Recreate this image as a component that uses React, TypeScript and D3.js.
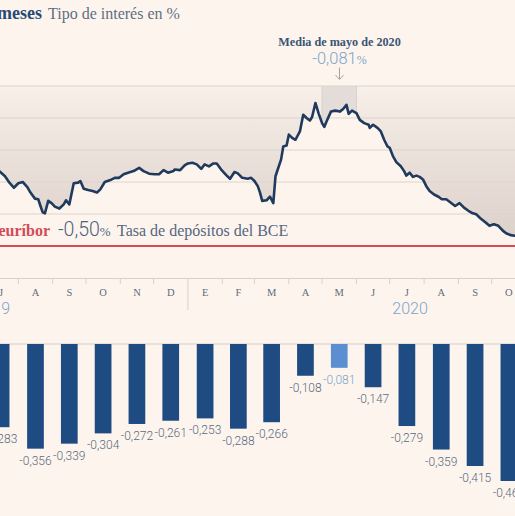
import React from 'react';
import * as d3 from 'd3';

// Euríbor a 12 meses, lecturas diarias aproximadas (%)
const euriborDaily: [string, number][] = [
  ['2019-07-12', -0.255], ['2019-07-15', -0.266], ['2019-07-20', -0.282], ['2019-07-24', -0.302],
  ['2019-07-28', -0.318], ['2019-08-01', -0.304], ['2019-08-05', -0.3], ['2019-08-09', -0.315],
  ['2019-08-12', -0.333], ['2019-08-16', -0.352], ['2019-08-19', -0.354], ['2019-08-21', -0.375],
  ['2019-08-23', -0.395], ['2019-08-25', -0.398], ['2019-08-28', -0.359], ['2019-08-31', -0.366],
  ['2019-09-03', -0.377], ['2019-09-07', -0.383], ['2019-09-11', -0.37], ['2019-09-13', -0.357],
  ['2019-09-16', -0.37], ['2019-09-20', -0.304], ['2019-09-24', -0.302], ['2019-09-26', -0.297],
  ['2019-09-29', -0.321], ['2019-10-03', -0.325], ['2019-10-07', -0.328], ['2019-10-11', -0.333],
  ['2019-10-14', -0.323], ['2019-10-18', -0.3], ['2019-10-23', -0.294], ['2019-10-27', -0.287],
  ['2019-10-31', -0.287], ['2019-11-04', -0.276], ['2019-11-08', -0.271], ['2019-11-13', -0.266],
  ['2019-11-18', -0.256], ['2019-11-22', -0.266], ['2019-11-27', -0.274], ['2019-12-02', -0.276],
  ['2019-12-06', -0.276], ['2019-12-10', -0.263], ['2019-12-14', -0.271], ['2019-12-19', -0.266],
  ['2019-12-20', -0.261], ['2019-12-25', -0.263], ['2019-12-29', -0.248], ['2020-01-01', -0.242],
  ['2020-01-05', -0.24], ['2020-01-09', -0.245], ['2020-01-13', -0.259], ['2020-01-16', -0.245],
  ['2020-01-20', -0.251], ['2020-01-24', -0.242], ['2020-01-27', -0.242], ['2020-01-31', -0.261],
  ['2020-02-05', -0.28], ['2020-02-08', -0.29], ['2020-02-12', -0.269], ['2020-02-15', -0.273],
  ['2020-02-19', -0.287], ['2020-02-24', -0.29], ['2020-02-27', -0.287], ['2020-03-01', -0.297],
  ['2020-03-04', -0.313], ['2020-03-06', -0.333], ['2020-03-08', -0.359], ['2020-03-12', -0.357],
  ['2020-03-15', -0.346], ['2020-03-17', -0.359], ['2020-03-18', -0.366], ['2020-03-20', -0.282],
  ['2020-03-22', -0.261], ['2020-03-25', -0.23], ['2020-03-27', -0.189], ['2020-03-30', -0.186],
  ['2020-04-01', -0.152], ['2020-04-04', -0.162], ['2020-04-07', -0.168], ['2020-04-11', -0.142],
  ['2020-04-14', -0.09], ['2020-04-17', -0.1], ['2020-04-20', -0.108], ['2020-04-22', -0.097],
  ['2020-04-25', -0.053], ['2020-04-28', -0.087], ['2020-05-01', -0.116], ['2020-05-03', -0.128],
  ['2020-05-05', -0.111], ['2020-05-09', -0.08], ['2020-05-13', -0.077], ['2020-05-17', -0.08],
  ['2020-05-20', -0.072], ['2020-05-23', -0.059], ['2020-05-25', -0.087], ['2020-05-28', -0.077],
  ['2020-06-01', -0.085], ['2020-06-04', -0.106], ['2020-06-08', -0.116], ['2020-06-12', -0.121],
  ['2020-06-13', -0.131], ['2020-06-16', -0.121], ['2020-06-20', -0.131], ['2020-06-23', -0.142],
  ['2020-06-26', -0.168], ['2020-06-29', -0.189], ['2020-07-01', -0.193], ['2020-07-04', -0.22],
  ['2020-07-07', -0.238], ['2020-07-11', -0.251], ['2020-07-14', -0.266], ['2020-07-16', -0.28],
  ['2020-07-19', -0.271], ['2020-07-22', -0.284], ['2020-07-25', -0.28], ['2020-07-28', -0.284],
  ['2020-07-31', -0.292], ['2020-08-03', -0.313], ['2020-08-06', -0.328], ['2020-08-10', -0.339],
  ['2020-08-14', -0.346], ['2020-08-17', -0.354], ['2020-08-21', -0.354], ['2020-08-24', -0.362],
  ['2020-08-29', -0.375], ['2020-09-02', -0.366], ['2020-09-06', -0.38], ['2020-09-10', -0.39],
  ['2020-09-14', -0.398], ['2020-09-17', -0.401], ['2020-09-21', -0.414], ['2020-09-25', -0.425],
  ['2020-09-29', -0.437], ['2020-10-03', -0.432], ['2020-10-07', -0.437], ['2020-10-11', -0.452],
  ['2020-10-14', -0.46], ['2020-10-18', -0.466], ['2020-10-22', -0.468], ['2020-10-26', -0.472],
];

// Medias mensuales, de julio de 2019 a octubre de 2020
const barMonths = [
  '2019-07', '2019-08', '2019-09', '2019-10', '2019-11', '2019-12', '2020-01', '2020-02',
  '2020-03', '2020-04', '2020-05', '2020-06', '2020-07', '2020-08', '2020-09', '2020-10',
];
const monthlyAvg = [
  -0.283, -0.356, -0.339, -0.304, -0.272, -0.261, -0.253, -0.288,
  -0.266, -0.108, -0.081, -0.147, -0.279, -0.359, -0.415, -0.466,
];
const monthLetters = ['J', 'A', 'S', 'O', 'N', 'D', 'E', 'F', 'M', 'A', 'M', 'J', 'J', 'A', 'S', 'O'];
const gridValues = [0, -0.1, -0.2, -0.3, -0.4];
const highlightMonth = '2020-05';
const depositRate = -0.5;

const W = 515;
const H = 516;
const serif = '"Liberation Serif", "DejaVu Serif", serif';
const sans = 'Roboto, Lato, sans-serif';

const parseDay = d3.timeParse('%Y-%m-%d');
const parseMonth = d3.timeParse('%Y-%m');
const fmt = (v: number) => v.toFixed(3).replace('.', ',');

export default function App() {
  const series = euriborDaily.map(([d, v]) => ({ date: parseDay(d) as Date, value: v }));

  const x = d3.scaleTime()
    .domain([new Date(2019, 7, 1), new Date(2020, 9, 1)])
    .range([18.3, 491.7]);
  const y = d3.scaleLinear().domain([-0.5, 0]).range([246, 86]);
  const yBar = d3.scaleLinear().domain([-0.5, 0]).range([491, 344]);

  const line = d3.line<{ date: Date; value: number }>()
    .x((d) => x(d.date))
    .y((d) => y(d.value));
  const area = d3.area<{ date: Date; value: number }>()
    .x((d) => x(d.date))
    .y0(y(0))
    .y1((d) => y(d.value));

  const hStart = parseMonth(highlightMonth) as Date;
  const hEnd = d3.timeMonth.offset(hStart, 1);
  const mayPart = series.filter((d) => d.date >= hStart && d.date <= hEnd);

  const months = barMonths.map((m) => parseMonth(m) as Date);
  const mid = (m: Date) => (x(m) + x(d3.timeMonth.offset(m, 1))) / 2;
  const ticks = d3.timeMonth.range(new Date(2019, 7, 1), new Date(2020, 10, 2));
  const barW = 16.7;

  return (
    <svg width={W} height={H} style={{ position: 'fixed', left: 0, top: 0, background: '#fdf5ed' }}>
      <defs>
        <linearGradient id="shade" gradientUnits="userSpaceOnUse" x1="0" y1={y(0)} x2="0" y2={y(-0.5)}>
          <stop offset="0" stopColor="#f7efe8" />
          <stop offset="1" stopColor="#dbcfc9" />
        </linearGradient>
      </defs>
      <rect width={W} height={H} fill="#fdf5ed" />

      {/* título */}
      <text x={42} y={19} textAnchor="end" fontFamily={serif} fontWeight="bold" fontSize={18} fill="#2a4a73">
        Euríbor a 12 meses
      </text>
      <text x={48} y={19} fontFamily={serif} fontSize={16} fill="#5f6f84">Tipo de interés en %</text>

      {/* sombreado sobre la curva */}
      <path d={area(series) ?? ''} fill="url(#shade)" />
      <path d={area(mayPart) ?? ''} fill="#e4dcd8" />
      <line x1={x(hStart)} x2={x(hStart)} y1={y(0)} y2={y(-0.11)} stroke="#d9d1cc" />
      <line x1={x(hEnd)} x2={x(hEnd)} y1={y(0)} y2={y(-0.085)} stroke="#d9d1cc" />

      {gridValues.map((g) => (
        <line key={g} x1={0} x2={W} y1={y(g)} y2={y(g)} stroke="#dcd3cd" strokeWidth={1.2} />
      ))}

      <line x1={0} x2={W} y1={y(depositRate)} y2={y(depositRate)} stroke="#d84a55" strokeWidth={1.8} />

      <path d={line(series) ?? ''} fill="none" stroke="#1f3a5c" strokeWidth={2.6} strokeLinejoin="round" />

      {/* anotación de mayo */}
      <text x={339.5} y={45.5} textAnchor="middle" fontFamily={serif} fontWeight="bold" fontSize={12.2} fill="#3b5474">
        Media de mayo de 2020
      </text>
      <text x={339.5} y={63.5} textAnchor="middle" fontWeight={300} fill="#7fa3cb">
        <tspan fontFamily={sans} fontSize={16.5}>{fmt(monthlyAvg[10])}</tspan>
        <tspan fontFamily={serif} fontSize={12}>%</tspan>
      </text>
      <line x1={339.5} x2={339.5} y1={67.5} y2={79} stroke="#aaa29d" strokeWidth={1} />
      <path d="M335.5,75 L339.5,79.5 L343.5,75" fill="none" stroke="#aaa29d" strokeWidth={1} />

      {/* tasa de depósitos */}
      <text x={50} y={236} textAnchor="end" fontFamily={serif} fontWeight="bold" fontSize={16} fill="#d24b56">
        euríbor
      </text>
      <text x={58} y={236} fill="#4b6282">
        <tspan fontFamily={sans} fontWeight={300} fontSize={19.5}>{depositRate.toFixed(2).replace('.', ',')}</tspan>
        <tspan fontFamily={serif} fontSize={13}>%</tspan>
      </text>
      <text x={117} y={236} fontFamily={serif} fontSize={16} fill="#55667f">Tasa de depósitos del BCE</text>

      {/* eje de meses */}
      <line x1={0} x2={W} y1={278.5} y2={278.5} stroke="#d8d0ca" />
      {ticks.map((t) => (
        <line
          key={+t}
          x1={x(t)}
          x2={x(t)}
          y1={278.5}
          y2={t.getMonth() === 0 ? 310 : 284}
          stroke="#d8d0ca"
        />
      ))}
      {months.map((m, i) => (
        <text key={i} x={mid(m)} y={295.5} textAnchor="middle" fontFamily={serif} fontSize={10.5} fill="#5f6b7c">
          {monthLetters[i]}
        </text>
      ))}
      <text x={10} y={314} textAnchor="end" fontFamily={sans} fontWeight={300} fontSize={16} fill="#7fa3cb">2019</text>
      <text x={410} y={314} textAnchor="middle" fontFamily={sans} fontWeight={300} fontSize={16} fill="#7fa3cb">2020</text>

      {/* barras de medias mensuales */}
      <line x1={0} x2={W} y1={yBar(0)} y2={yBar(0)} stroke="#d3ccc7" />
      {months.map((m, i) => {
        const v = monthlyAvg[i];
        const cx = mid(m);
        const hl = barMonths[i] === highlightMonth;
        return (
          <g key={i}>
            <rect
              x={cx - barW / 2}
              y={yBar(0)}
              width={barW}
              height={yBar(v) - yBar(0)}
              fill={hl ? '#5b8fd1' : '#1e4b82'}
            />
            <text
              x={cx}
              y={yBar(v) + 16}
              textAnchor="middle"
              fontFamily={sans}
              fontWeight={300}
              fontSize={12}
              fill={hl ? '#7fa3cb' : '#5a6a80'}
            >
              {fmt(v)}
            </text>
          </g>
        );
      })}
    </svg>
  );
}
